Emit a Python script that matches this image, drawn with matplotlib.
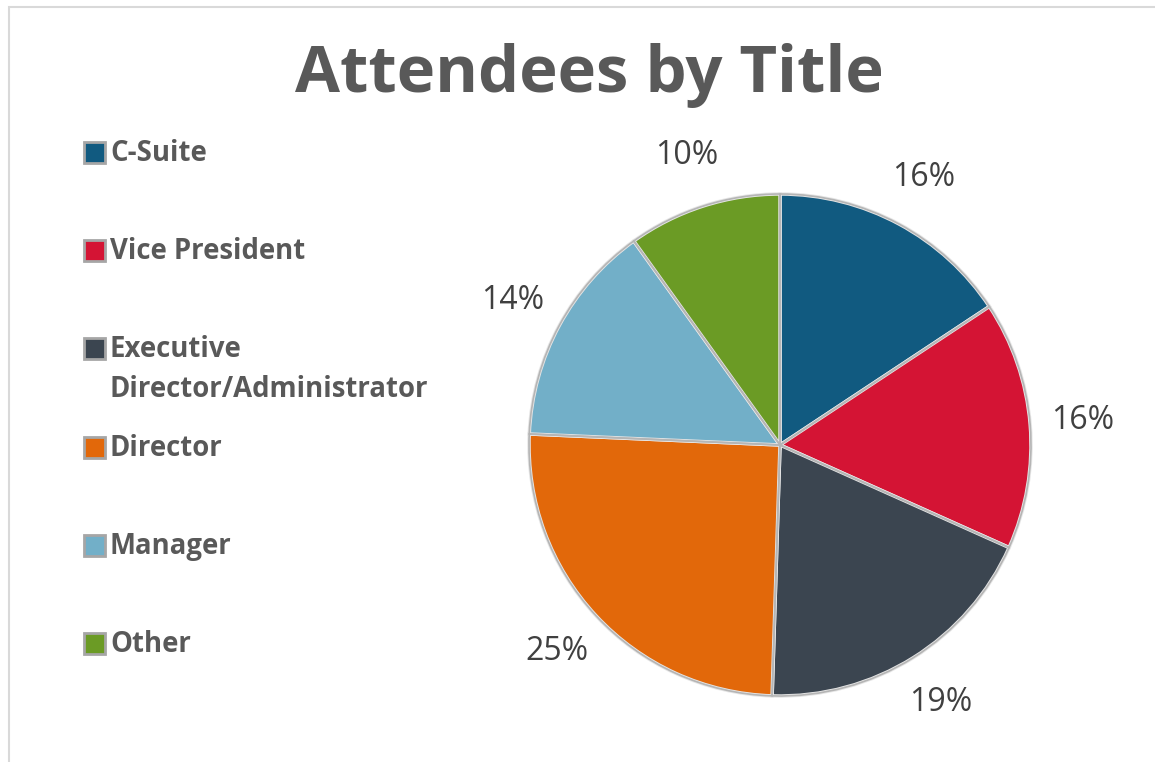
import matplotlib.pyplot as plt
from matplotlib.patches import Rectangle

titles = ["C-Suite", "Vice President", "Executive\nDirector/Administrator",
          "Director", "Manager", "Other"]
shares = [15.7, 16.0, 18.8, 25.2, 14.4, 9.9]
colors = ["#115a80", "#d41434", "#3b4550", "#e2680a", "#72afc8", "#6b9b25"]

W, H = 1155, 762
fig = plt.figure(figsize=(W / 100, H / 100), dpi=100)
plt.rcParams['font.family'] = ['Open Sans', 'DejaVu Sans']

# light chart-area border (top and left visible)
fig.patches.append(Rectangle((9 / W, -0.1), 1.2, 1 - 7 / H + 0.1, transform=fig.transFigure,
                             fill=False, edgecolor="#d9d9d9", lw=1.5))

fig.text(589 / W, 1 - 76 / H, "Attendees by Title", ha='center', va='center',
         fontsize=47, fontweight='bold', color='#595959')

# pie
cx, cy, r = 780, 445, 251
ax = fig.add_axes([(cx - r) / W, (H - cy - r) / H, 2 * r / W, 2 * r / H])
wedges, texts, autotexts = ax.pie(
    shares, colors=colors, startangle=90, counterclock=False,
    autopct='%.0f%%', pctdistance=1.21,
    wedgeprops=dict(edgecolor='#e6e6e6', linewidth=2.5),
    textprops=dict(fontsize=23, color='#404040'))
# outer rim
ax.pie(shares, colors=['none'] * len(shares), startangle=90, counterclock=False,
       wedgeprops=dict(edgecolor='#b5b5b5', linewidth=1.2, fill=False))
ax.set_xlim(-1, 1)
ax.set_ylim(-1, 1)

# legend, left column
for i, (name, c) in enumerate(zip(titles, colors)):
    y = 153 + i * 98.2
    fig.patches.append(Rectangle((84 / W, 1 - (y + 10) / H), 21 / W, 21 / H,
                                 transform=fig.transFigure, facecolor=c,
                                 edgecolor='#a6a6a6', lw=2))
    fig.text(110 / W, 1 - (y - 14) / H, name, ha='left', va='top',
             fontsize=19.8, fontweight='bold', color='#595959', linespacing=1.5)

fig.savefig("out.png", dpi=100)
